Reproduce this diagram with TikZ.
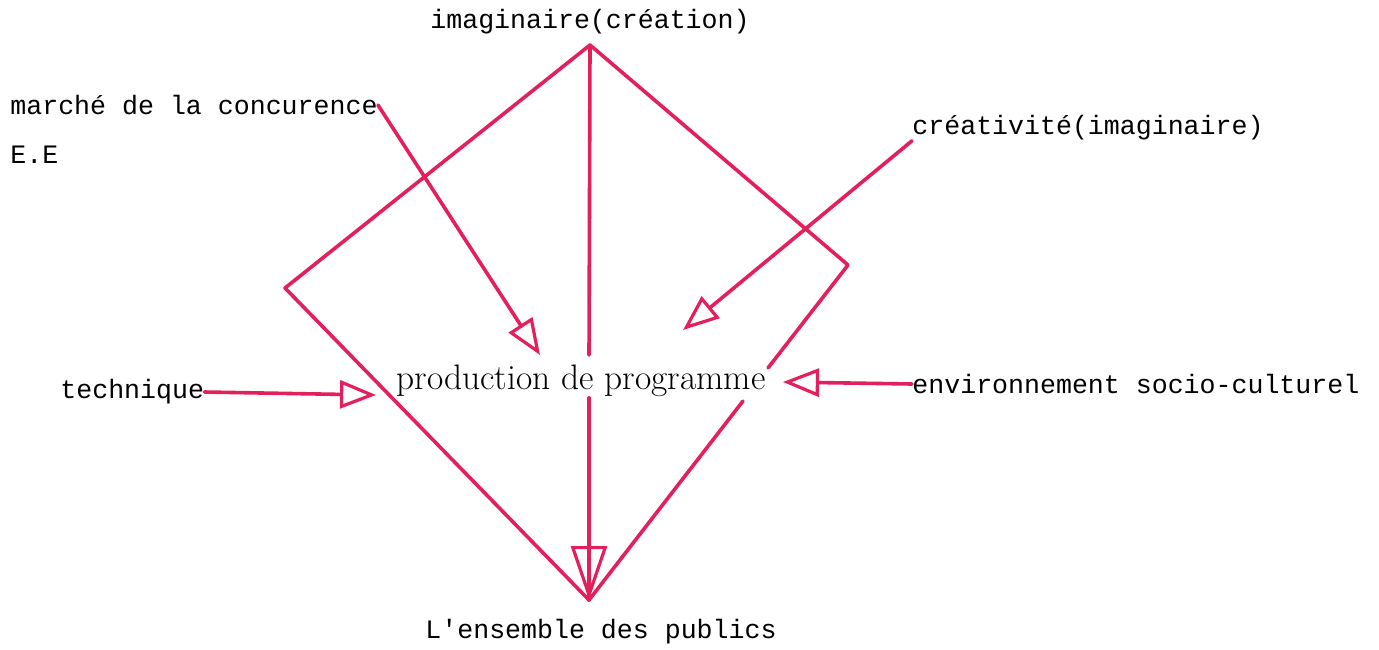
\documentclass[tikz,border=0pt]{standalone}
\usepackage{fontspec}
\setmonofont{Liberation Mono}
\usetikzlibrary{arrows.meta}
\definecolor{feutre}{RGB}{228,32,92}

\begin{document}
\begin{tikzpicture}[x=0.5pt,y=-0.5pt,
  trait/.style={draw=feutre, line width=1.8pt, line join=round, line cap=round},
  fleche/.style={trait, -{Triangle[open, length=18pt, width=14pt, line width=1.6pt]}},
  grandefleche/.style={trait, -{Triangle[open, length=27pt, width=18pt, line width=1.6pt]}},
  machine/.style={font=\ttfamily\fontsize{13.3}{16}\selectfont, inner sep=0pt}]
\useasboundingbox (0,0) rectangle (1379,649);
% sommets du losange
\coordinate (haut) at (590,45);
\coordinate (gauche) at (285,288);
\coordinate (droite) at (848,265);
\coordinate (bas) at (589,600);
\coordinate (coupe1) at (768,368);
\coordinate (coupe2) at (743,401);
\coordinate (axe1) at (589,355);
\coordinate (axe2) at (589,398);
% textes
\node[machine] (imag) at (590,22) {imaginaire(création)};
\node[machine, anchor=west] (marche) at (10,105) {marché de la concurence};
\node[machine, anchor=west] (ee) at (10,155) {E.E};
\node[machine, anchor=west] (creat) at (912,128) {créativité(imaginaire)};
\node[machine, anchor=west] (tech) at (60,392) {technique};
\node[machine, anchor=west] (env) at (912,384) {environnement socio-culturel};
\node[font=\fontsize{17.7}{21}\selectfont, inner sep=0pt] (prod) at (581,381) {production de programme};
\node[machine] (pub) at (601,632) {L'ensemble des publics};
% pointes des fleches
\coordinate (p1) at (540,355);
\coordinate (p2) at (683,330);
\coordinate (p3) at (376,395);
\coordinate (p4) at (783,382);
% losange
\draw[trait] (haut) -- (gauche) -- (bas) -- (coupe2);
\draw[trait] (coupe1) -- (droite) -- (haut) -- (axe1);
\draw[trait] (axe2) -- (bas);
\draw[grandefleche] (axe2) -- (bas);
% influences
\draw[fleche] (marche.east) -- (p1);
\draw[fleche] (creat.south west) -- (p2);
\draw[fleche] (tech.east) -- (p3);
\draw[fleche] (env.west) -- (p4);
\end{tikzpicture}
\end{document}
